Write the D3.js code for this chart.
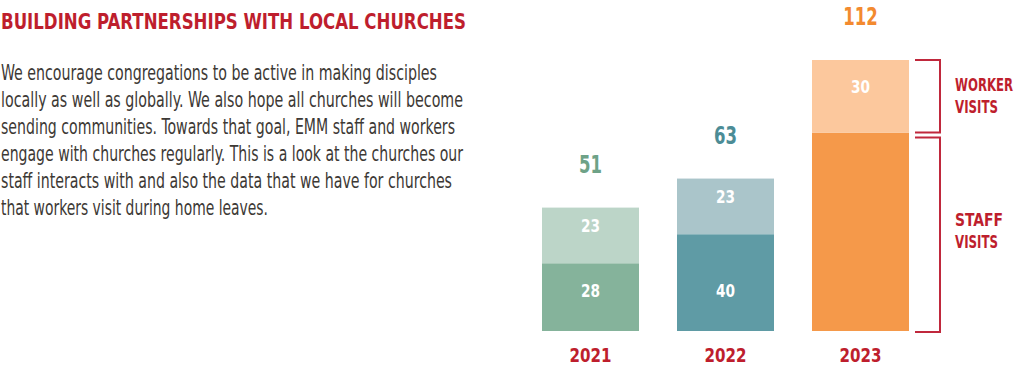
<!DOCTYPE html>
<html><head><meta charset="utf-8">
<script src="https://cdn.jsdelivr.net/npm/d3@7"></script>
<style>
html,body{margin:0;padding:0;background:#fff;}
svg{display:block;}
</style></head>
<body>
<svg id="c" width="1024" height="386"></svg>
<script>
const title = "BUILDING PARTNERSHIPS WITH LOCAL CHURCHES";
const paragraph = [
  "We encourage congregations to be active in making disciples",
  "locally as well as globally. We also hope all churches will become",
  "sending communities. Towards that goal, EMM staff and workers",
  "engage with churches regularly. This is a look at the churches our",
  "staff interacts with and also the data that we have for churches",
  "that workers visit during home leaves."
];
const years = ["2021", "2022", "2023"];
const staffVisits = [28, 40, 82];
const workerVisits = [23, 23, 30];
const totals = [51, 63, 112];
const showStaffLabel = [true, true, false];
const staffColors = ["#85b39b", "#5f9ba5", "#f5994a"];
const workerColors = ["#bcd5c8", "#aac5ca", "#fcc89d"];
const totalColors = ["#6ea287", "#4c8c96", "#f38a2f"];
const legendLabels = [["WORKER", "VISITS"], ["STAFF", "VISITS"]];

const FONT = "'Liberation Sans Narrow', 'DejaVu Sans Condensed', 'Liberation Sans', sans-serif";
const RED = "#be1e2d";
const svg = d3.select("#c");

function fit(sel, w) {
  sel.attr("textLength", w).attr("lengthAdjust", "spacingAndGlyphs");
}

// Title
svg.append("text").attr("x", 1).attr("y", 29)
  .attr("font-family", FONT).attr("font-weight", "bold").attr("font-size", 22)
  .attr("fill", RED).call(fit, 465)
  .text(title);

// Paragraph
const lineWidths = [436, 462, 454, 462, 451, 267];
svg.append("g").selectAll("text").data(paragraph).join("text")
  .attr("x", 1).attr("y", (d, i) => 80 + i * 27)
  .attr("font-family", FONT).attr("font-size", 21).attr("fill", "#3d3935")
  .attr("textLength", (d, i) => lineWidths[i]).attr("lengthAdjust", "spacingAndGlyphs")
  .text(d => d);

// Scales
const x = d3.scaleBand().domain(years).range([542, 909]).paddingInner(0.2815).paddingOuter(0);
const y = d3.scaleLinear().domain([0, 112]).range([331, 60]);

const data = years.map((yr, i) => ({
  year: yr, staff: staffVisits[i], worker: workerVisits[i], total: totals[i], i
}));
const cx = d => x(d.year) + x.bandwidth() / 2;

const g = svg.append("g");
g.selectAll("rect.staff").data(data).join("rect").attr("class", "staff")
  .attr("x", d => x(d.year)).attr("width", x.bandwidth())
  .attr("y", d => y(d.staff)).attr("height", d => y(0) - y(d.staff))
  .attr("fill", d => staffColors[d.i]);
g.selectAll("rect.worker").data(data).join("rect").attr("class", "worker")
  .attr("x", d => x(d.year)).attr("width", x.bandwidth())
  .attr("y", d => y(d.staff + d.worker)).attr("height", d => y(d.staff) - y(d.staff + d.worker))
  .attr("fill", d => workerColors[d.i]);

g.selectAll("text.sl").data(data.filter(d => showStaffLabel[d.i])).join("text").attr("class", "sl")
  .attr("x", cx).attr("y", y(0) - 34)
  .attr("text-anchor", "middle").attr("font-family", FONT).attr("font-weight", "bold")
  .attr("font-size", 18).attr("fill", "#fff")
  .attr("textLength", d => String(d.staff).length * 9.5).attr("lengthAdjust", "spacingAndGlyphs")
  .text(d => d.staff);
g.selectAll("text.wl").data(data).join("text").attr("class", "wl")
  .attr("x", cx)
  .attr("y", d => (y(d.staff) + y(d.staff + d.worker)) / 2 - 3)
  .attr("text-anchor", "middle").attr("font-family", FONT).attr("font-weight", "bold")
  .attr("font-size", 18).attr("fill", "#fff")
  .attr("textLength", d => String(d.worker).length * 9.5).attr("lengthAdjust", "spacingAndGlyphs")
  .text(d => d.worker);

g.selectAll("text.tot").data(data).join("text").attr("class", "tot")
  .attr("x", cx)
  .attr("y", d => y(d.total) - 35)
  .attr("text-anchor", "middle").attr("font-family", FONT).attr("font-weight", "bold")
  .attr("font-size", 24).attr("fill", d => totalColors[d.i])
  .attr("textLength", d => String(d.total).length * 11.5).attr("lengthAdjust", "spacingAndGlyphs")
  .text(d => d.total);

g.selectAll("text.yr").data(data).join("text").attr("class", "yr")
  .attr("x", cx).attr("y", 362)
  .attr("text-anchor", "middle").attr("font-family", FONT).attr("font-weight", "bold")
  .attr("font-size", 20).attr("fill", RED)
  .attr("textLength", 42).attr("lengthAdjust", "spacingAndGlyphs")
  .text(d => d.year);

const last = data[data.length - 1];
const bx0 = x(last.year) + x.bandwidth() + 6, bx1 = bx0 + 25;
const segs = [
  [y(last.staff + last.worker), y(last.staff)],
  [y(last.staff) + 5, y(0) + 1]
];
const bracket = svg.append("g").attr("fill", "none").attr("stroke", "#c0283c").attr("stroke-width", 2);
segs.forEach(([t, b]) => {
  bracket.append("path").attr("d", `M${bx0},${t}H${bx1}V${b}H${bx0}`);
});
const labelY = [[91, 113], [226, 248]];
const labelW = [[58, 43], [48, 43]];
legendLabels.forEach((lines, k) => {
  lines.forEach((ln, j) => {
    svg.append("text").attr("x", 955).attr("y", labelY[k][j])
      .attr("font-family", FONT).attr("font-weight", "bold").attr("font-size", 18)
      .attr("fill", RED).call(fit, labelW[k][j]).text(ln);
  });
});
</script>
</body></html>
